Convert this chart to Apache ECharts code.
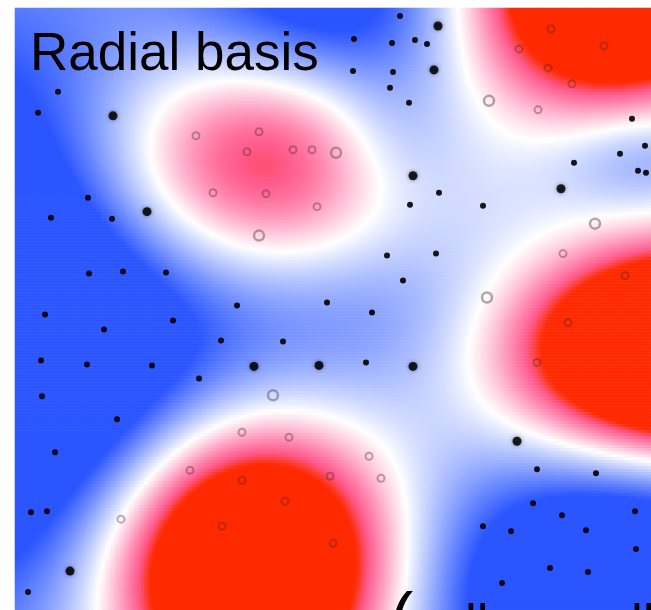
<!DOCTYPE html>
<html>
<head>
<meta charset="utf-8">
<script src="https://cdn.jsdelivr.net/npm/echarts@6/dist/echarts.min.js"></script>
<style>
    html, body { margin: 0; padding: 0; background: #fff; }
    #main { width: 651px; height: 610px; }
</style>
</head>
<body>
<div id="main"></div>
<script>
// decision surface: a bias plus a few radial bumps (centre, height, spread)
var bias = -0.35
var bumpX = [615, 700, 248, 245, 0, 620, 330, 645, 370, 395]
var bumpY = [-12, 352, 565, 170, 320, 600, 0, 155, 300, 135]
var bumpAmp = [2.7, 3.5, 3.1, 1.75, -1.85, -1.7, -1.0, -0.45, -0.35, -0.45]
var bumpSx = [100, 121, 98, 122, 185, 130, 100, 60, 110, 55]
var bumpSy = [84, 70, 100, 88, 190, 95, 70, 40, 70, 60]

// class -1 (black dots) and class +1 (open circles)
var negPts = [[58, 92], [38, 113], [88, 198], [400, 16], [354, 39], [392, 43], [415, 40], [427, 44],
    [353, 71], [393, 72], [390, 88], [409, 103], [632, 119], [645, 146], [620, 154], [574, 163],
    [638, 171], [646, 173], [439, 193], [51, 218], [112, 219], [89, 274], [123, 272], [166, 273],
    [237, 306], [327, 303], [45, 315], [104, 330], [173, 321], [221, 341], [283, 342], [41, 361],
    [87, 365], [152, 366], [199, 379], [42, 397], [410, 205], [483, 206], [387, 256], [436, 254],
    [403, 281], [372, 313], [366, 363], [117, 420], [55, 453], [31, 513], [47, 512], [28, 593],
    [537, 470], [596, 474], [533, 504], [562, 516], [635, 512], [483, 527], [511, 532], [586, 531],
    [636, 550], [550, 569], [588, 573], [502, 584]]
var negBig = [[113, 116], [147, 212], [434, 70], [413, 176], [561, 189], [254, 367], [319, 366],
    [413, 367], [517, 442], [70, 572], [438, 26]]
var posPts = [[196, 136], [259, 132], [247, 152], [293, 150], [312, 150], [213, 193], [266, 194],
    [317, 207], [551, 29], [519, 49], [604, 46], [548, 68], [572, 84], [538, 110], [563, 254],
    [625, 276], [568, 323], [537, 363], [242, 433], [289, 438], [190, 471], [242, 481], [285, 502],
    [222, 527], [121, 520], [330, 477], [333, 544], [369, 457], [381, 479]]
var posBig = [[489, 101], [336, 153], [259, 236], [595, 224], [487, 298], [273, 396]]

var colorStops = ['#2b55ff', '#5f80ff', '#95abff', '#cad5ff', '#ffffff', '#ffc6da', '#ff8db4', '#ff5a8c', '#ff2a00']

var x0 = 15, y0 = 8, cell = 3, nx = 212, ny = 201

function field(px, py) {
    var v = bias
    for (var k = 0; k < bumpX.length; k++) {
        var dx = (px - bumpX[k]) / bumpSx[k]
        var dy = (py - bumpY[k]) / bumpSy[k]
        v += bumpAmp[k] * Math.exp(-0.5 * (dx * dx + dy * dy))
    }
    return Math.max(-1, Math.min(1, v))
}

var xCats = [], yCats = [], grid = []
for (var i = 0; i < nx; i++) xCats.push(i)
for (var j = 0; j < ny; j++) yCats.push(j)
for (var i = 0; i < nx; i++) {
    for (var j = 0; j < ny; j++) {
        grid.push([i, j, field(x0 + (i + 0.5) * cell, y0 + (j + 0.5) * cell)])
    }
}

var myChart = echarts.init(document.getElementById('main'))
var rect = { left: x0, top: y0, width: nx * cell, height: ny * cell }

var option = {
    animation: false,
    title: {
        text: 'Radial basis',
        left: 25,
        top: 24,
        textStyle: { fontSize: 53, fontWeight: 'normal', color: '#000', fontFamily: 'Liberation Sans' }
    },
    grid: [
        Object.assign({}, rect),
        Object.assign({}, rect)
    ],
    xAxis: [
        { type: 'category', data: xCats, gridIndex: 0, show: false },
        { type: 'value', min: x0, max: x0 + nx * cell, gridIndex: 1, show: false }
    ],
    yAxis: [
        { type: 'category', data: yCats, gridIndex: 0, inverse: true, show: false },
        { type: 'value', min: y0, max: y0 + ny * cell, gridIndex: 1, inverse: true, show: false }
    ],
    visualMap: {
        type: 'continuous',
        show: false,
        min: -1,
        max: 1,
        seriesIndex: 0,
        inRange: { color: colorStops }
    },
    series: [
        {
            type: 'heatmap',
            xAxisIndex: 0,
            yAxisIndex: 0,
            data: grid,
            progressive: 0,
            itemStyle: { borderWidth: 0 }
        },
        {
            type: 'scatter',
            xAxisIndex: 1,
            yAxisIndex: 1,
            data: negPts,
            symbolSize: 6,
            itemStyle: { color: '#000', opacity: 0.9 }
        },
        {
            type: 'scatter',
            xAxisIndex: 1,
            yAxisIndex: 1,
            data: negBig,
            symbolSize: 9,
            itemStyle: { color: '#000', opacity: 0.85, shadowBlur: 4, shadowColor: 'rgba(0,0,0,0.5)' }
        },
        {
            type: 'scatter',
            xAxisIndex: 1,
            yAxisIndex: 1,
            data: posPts,
            symbolSize: 7,
            itemStyle: { color: 'transparent', borderColor: 'rgba(70,40,40,0.45)', borderWidth: 2 }
        },
        {
            type: 'scatter',
            xAxisIndex: 1,
            yAxisIndex: 1,
            data: posBig,
            symbolSize: 10,
            itemStyle: { color: 'transparent', borderColor: 'rgba(90,80,80,0.6)', borderWidth: 2.5 }
        }
    ],
    graphic: [
        { type: 'text', z: 100, left: 390, top: 588, style: { text: '(', fontSize: 70, fontFamily: 'Liberation Sans', fill: '#000' } },
        { type: 'text', z: 100, left: 465, top: 601, style: { text: 'll', fontSize: 53, fontFamily: 'Liberation Sans', fill: '#000' } },
        { type: 'text', z: 100, left: 631, top: 601, style: { text: 'll', fontSize: 53, fontFamily: 'Liberation Sans', fill: '#000' } }
    ]
}

myChart.setOption(option)
</script>
</body>
</html>
